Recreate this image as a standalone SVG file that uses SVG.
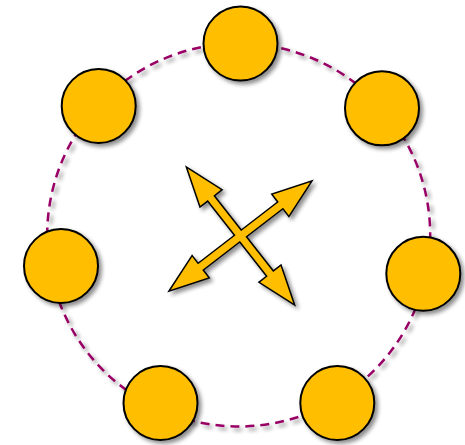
<svg xmlns="http://www.w3.org/2000/svg" width="465" height="445" viewBox="0 0 465 445">
<defs>
<filter id="sh" x="-30%" y="-30%" width="160%" height="160%">
<feGaussianBlur in="SourceAlpha" stdDeviation="2.2"/>
<feOffset dx="3" dy="3" result="b"/>
<feComponentTransfer><feFuncA type="linear" slope="0.45"/></feComponentTransfer>
<feMerge><feMergeNode/><feMergeNode in="SourceGraphic"/></feMerge>
</filter>
<polygon id="arrA" points="-85.5,0 -48.5,-13 -48.5,-3.5 48.5,-3.5 48.5,-13 85.5,0 48.5,13 48.5,3.5 -48.5,3.5 -48.5,13"/>
<polygon id="arrB" points="-88,0 -51,-13 -51,-3.5 51,-3.5 51,-13 88,0 51,13 51,3.5 -51,3.5 -51,13"/>
</defs>
<style>
.ring{fill:none;stroke:#990066;stroke-width:2.5;stroke-dasharray:9 6}
.node{fill:#FFBF00;stroke:#000;stroke-width:2}
.aout{fill:none;stroke:#000;stroke-width:3;stroke-linejoin:miter}
.ain{fill:#FFBF00;stroke:none}
</style>
<g id="connectors">
<circle class="ring" cx="238.7" cy="235" r="191.5" filter="url(#sh)"/>
<g id="cross-arrows" filter="url(#sh)">
<use href="#arrA" class="aout" transform="translate(240.5 236) rotate(51.9)"/>
<use href="#arrB" class="aout" transform="translate(240.5 236) rotate(-37.6)"/>
<use href="#arrA" class="ain" transform="translate(240.5 236) rotate(51.9)"/>
<use href="#arrB" class="ain" transform="translate(240.5 236) rotate(-37.6)"/>
</g>
</g>
<g id="n-top" filter="url(#sh)"><circle class="node" cx="240.5" cy="43.5" r="37"/></g>
<g id="n-topleft" filter="url(#sh)"><circle class="node" cx="98.7" cy="106" r="37"/></g>
<g id="n-topright" filter="url(#sh)"><circle class="node" cx="382" cy="108.3" r="37"/></g>
<g id="n-left" filter="url(#sh)"><circle class="node" cx="61" cy="266" r="37"/></g>
<g id="n-right" filter="url(#sh)"><circle class="node" cx="423.3" cy="273.7" r="37"/></g>
<g id="n-bottomleft" filter="url(#sh)"><circle class="node" cx="160.5" cy="403" r="37"/></g>
<g id="n-bottomright" filter="url(#sh)"><circle class="node" cx="337.3" cy="403" r="37"/></g>
</svg>
